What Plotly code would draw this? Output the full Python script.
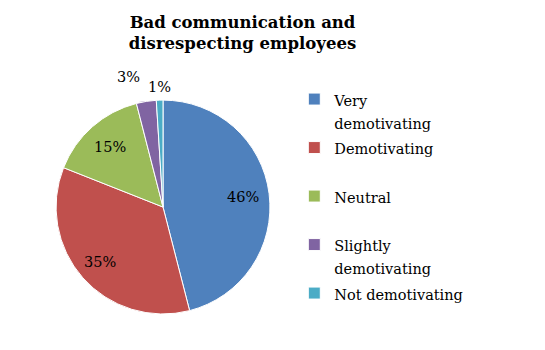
import math
import plotly.graph_objects as go

categories = ["Very demotivating", "Demotivating", "Neutral", "Slightly demotivating", "Not demotivating"]
values = [46, 35, 15, 3, 1]
colors = ["#4F81BD", "#C0504D", "#9BBB59", "#8064A2", "#4BACC6"]

# legend line-wrapping (style only)
legend_lines = [["Very", "demotivating"], ["Demotivating", " "], ["Neutral", " "],
                ["Slightly", "demotivating"], ["Not demotivating"]]
# label placement style: radial factor of the pie radius and extra pixel nudge
label_radius = [0.75, 0.78, 0.75, 1.23, 1.12]
label_nudge_x = [0, 0, 0, -14, 0]

FONT = "DejaVu Serif"
W, H = 545, 350
DOM_X = [0.1028, 0.4954]
DOM_Y = [0.1029, 0.714]

def span(t, size=14.5):
    return f"<span style='font-size:{size}px'>{t}</span>"

legend_labels = ["<br>".join(span(t) for t in lines) for lines in legend_lines]

fig = go.Figure(go.Pie(
    labels=legend_labels,
    values=values,
    sort=False,
    direction="clockwise",
    rotation=0,
    marker=dict(colors=colors, line=dict(color="white", width=1)),
    textinfo="none",
    domain=dict(x=DOM_X, y=DOM_Y),
    showlegend=True,
    hoverinfo="skip",
))

# data labels placed at each slice's mid-angle (computed from the values)
cx = (DOM_X[0] + DOM_X[1]) / 2 * W
cy = (1 - (DOM_Y[0] + DOM_Y[1]) / 2) * H
r = min((DOM_X[1] - DOM_X[0]) * W, (DOM_Y[1] - DOM_Y[0]) * H) / 2
total = sum(values)
cum = 0
for i, v in enumerate(values):
    mid = (cum + v / 2) / total
    cum += v
    ang = 2 * math.pi * mid
    rho = r * label_radius[i]
    px = cx + rho * math.sin(ang) + label_nudge_x[i]
    py = cy - rho * math.cos(ang)
    fig.add_annotation(
        x=px / W, y=1 - py / H, xref="paper", yref="paper",
        text=f"{round(100 * v / total)}%", showarrow=False,
        xanchor="center", yanchor="middle",
        font=dict(family=FONT, size=14.5, color="black"),
    )

fig.update_layout(
    width=W, height=H,
    margin=dict(l=0, r=0, t=0, b=0),
    paper_bgcolor="white",
    plot_bgcolor="white",
    font=dict(family=FONT, color="black"),
    title=dict(
        text="<b>Bad communication and<br>disrespecting employees</b>",
        x=0.445, xanchor="center", y=0.92, yanchor="top",
        font=dict(family=FONT, size=16.5, color="black"),
    ),
    legend=dict(
        x=0.54, xanchor="left", y=0.768, yanchor="top",
        font=dict(family=FONT, size=17.5, color="black"),
        valign="top",
        itemwidth=30,
        tracegroupgap=0,
    ),
)

fig.write_html("out.html")
